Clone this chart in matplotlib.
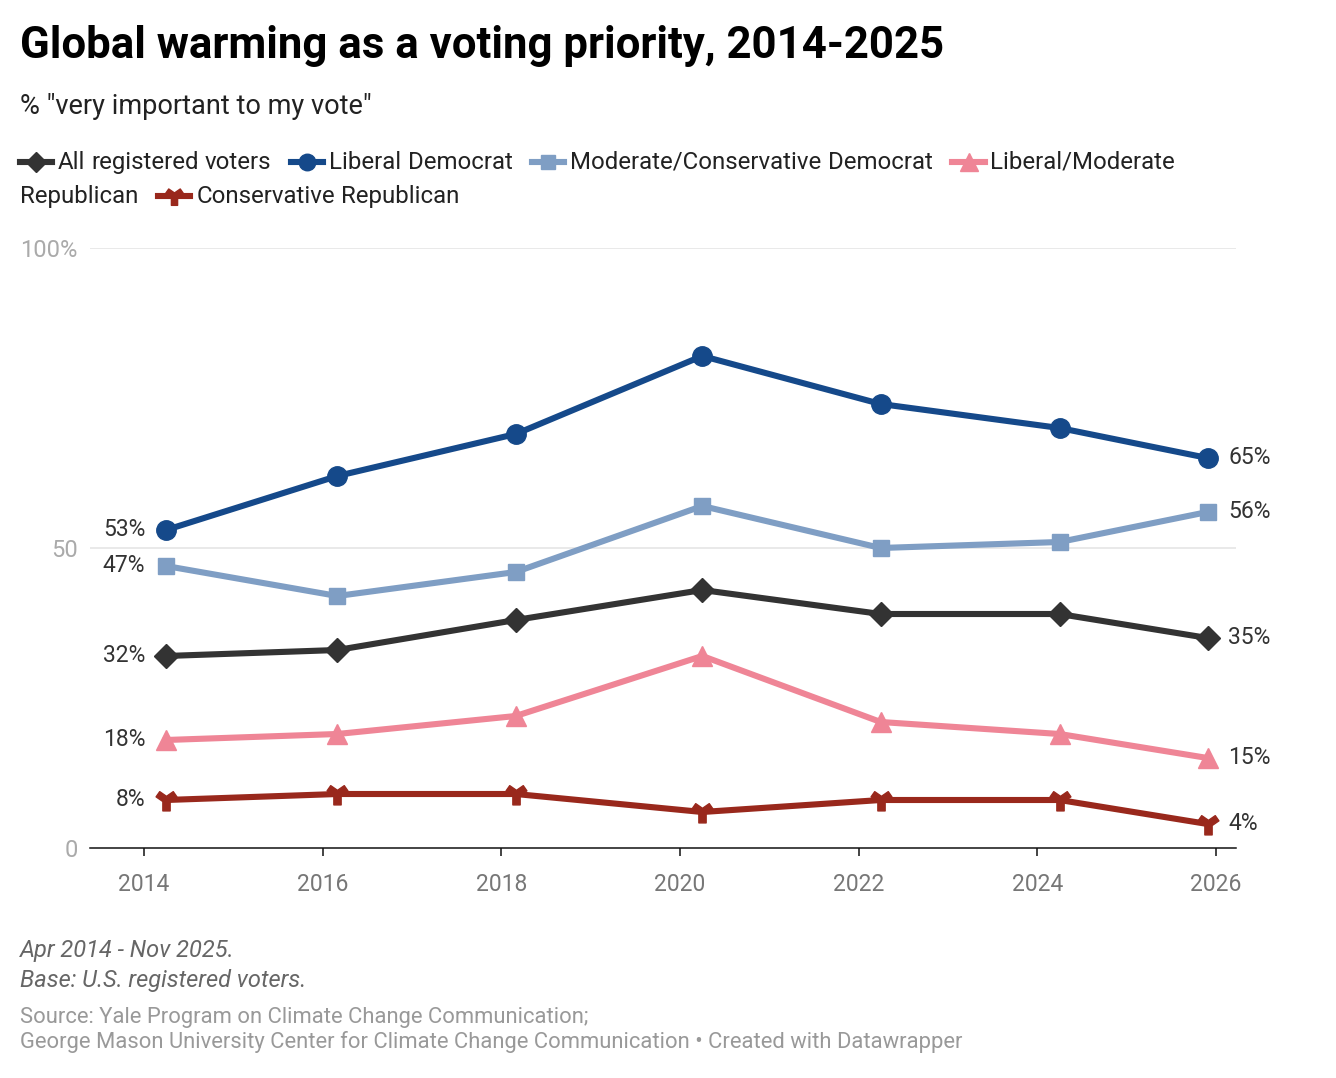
import numpy as np
import pandas as pd
import matplotlib
matplotlib.use("Agg")
import matplotlib.pyplot as plt
from matplotlib.path import Path
from matplotlib.lines import Line2D

plt.rcParams['font.family'] = ['Roboto', 'DejaVu Sans']

# DATA
dates = ['2014-04-01', '2016-03-01', '2018-03-01', '2020-04-01', '2022-04-01', '2024-04-01', '2025-11-28']
all_voters = [32, 33, 38, 43, 39, 39, 35]
liberal_dem = [53, 62, 69, 82, 74, 70, 65]
modcons_dem = [47, 42, 46, 57, 50, 51, 56]
libmod_rep = [18, 19, 22, 32, 21, 19, 15]
cons_rep = [8, 9, 9, 6, 8, 8, 4]
series_names = ['All registered voters', 'Liberal Democrat', 'Moderate/Conservative Democrat',
                'Liberal/Moderate Republican', 'Conservative Republican']
year_ticks = [2014, 2016, 2018, 2020, 2022, 2024, 2026]
y_ticks = [0, 50, 100]
y_tick_labels = ['0', '50', '100%']

# decimal years
d = pd.to_datetime(dates)
x = np.array(d.year + (d.dayofyear - 1) / 365.25)

# custom "Y" shaped marker for conservative republicans
y_marker = Path([(-0.35, -1), (0.35, -1), (0.35, -0.1), (1, 0.35), (0.65, 0.85),
                 (0, 0.4), (-0.65, 0.85), (-1, 0.35), (-0.35, -0.1), (-0.35, -1)],
                closed=True)

styles = [
    dict(color='#333333', marker='D', ms=12),
    dict(color='#15498a', marker='o', ms=14),
    dict(color='#7f9ec4', marker='s', ms=12),
    dict(color='#ef8596', marker='^', ms=15),
    dict(color='#99281c', marker=y_marker, ms=15),
]
values = [all_voters, liberal_dem, modcons_dem, libmod_rep, cons_rep]

W, H = 1336, 1078
fig = plt.figure(figsize=(W / 100, H / 100), dpi=100)
ax = fig.add_axes([90 / W, 1 - 848 / H, 1146 / W, 600 / H])

# gridlines
for gy in [50, 100]:
    ax.axhline(gy, color='#e3e3e3', lw=1.1, zorder=0)

for name, vals, st in zip(series_names, values, styles):
    ax.plot(x, vals, color=st['color'], lw=4.4, marker=st['marker'], ms=st['ms'],
            mfc=st['color'], mec=st['color'], solid_joinstyle='round', zorder=3)
    ax.annotate(f"{vals[0]}%", (x[0], vals[0]), xytext=(-15, 0), textcoords='offset points',
                ha='right', va='center', fontsize=16.5, color='#333333')
    ax.annotate(f"{vals[-1]}%", (x[-1], vals[-1]), xytext=(15, 0), textcoords='offset points',
                ha='left', va='center', fontsize=16.5, color='#333333')

ax.set_xlim(2014 - 54 / 89.33, 2026 + 20 / 89.33)
ax.set_ylim(0, 100)
ax.set_xticks(year_ticks)
ax.set_xticklabels([str(t) for t in year_ticks])
ax.set_yticks(y_ticks)
ax.set_yticklabels(y_tick_labels)
for s in ['top', 'right', 'left']:
    ax.spines[s].set_visible(False)
ax.spines['bottom'].set_color('#111111')
ax.spines['bottom'].set_linewidth(1.1)
ax.tick_params(axis='x', length=6, width=1.1, color='#111111', labelsize=16.5,
               labelcolor='#777777', pad=12)
ax.tick_params(axis='y', length=0, labelsize=17, labelcolor='#aaaaaa', pad=9)
ax.set_facecolor('none')

# TITLE
fig.text(20 / W, 1 - 46 / H, 'Global warming as a voting priority, 2014-2025',
         fontsize=31.5, fontweight='bold', color='#000000', va='center', ha='left')
fig.text(20 / W, 1 - 107 / H, '% "very important to my vote"',
         fontsize=19.5, color='#222222', va='center', ha='left')

# LEGEND (manual, wraps like the original)
fig.canvas.draw()
renderer = fig.canvas.get_renderer()
leg_fs = 17.3
row_y = [162, 196]
cur_x, row = 20, 0
right_limit = 1236
sym_w, sym_gap, item_gap = 32, 6, 20


def text_width(s):
    t = fig.text(0, 0, s, fontsize=leg_fs)
    w = t.get_window_extent(renderer).width
    t.remove()
    return w


space_w = text_width('a b') - text_width('ab')
for name, st in zip(series_names, styles):
    if cur_x + sym_w + sym_gap + text_width(name.split()[0]) > right_limit:
        row += 1
        cur_x = 20
    yy = 1 - row_y[row] / H
    fig.add_artist(Line2D([cur_x / W, (cur_x + sym_w) / W], [yy, yy], transform=fig.transFigure,
                          color=st['color'], lw=4.4))
    fig.add_artist(Line2D([(cur_x + sym_w / 2) / W], [yy], transform=fig.transFigure,
                          color=st['color'], marker=st['marker'], ms=st['ms'] * 0.85, lw=0))
    cur_x += sym_w + sym_gap
    words = name.split(' ')
    for i, wd in enumerate(words):
        ww = text_width(wd)
        if cur_x + ww > right_limit:
            row += 1
            cur_x = 20
            yy = 1 - row_y[row] / H
        fig.text(cur_x / W, yy, wd, fontsize=leg_fs, color='#222222', va='center', ha='left')
        cur_x += ww + (space_w if i < len(words) - 1 else 0)
    cur_x += item_gap

# FOOTER
fig.text(20 / W, 1 - 951 / H, 'Apr 2014 - Nov 2025.', fontsize=17, style='italic',
         color='#666666', va='center')
fig.text(20 / W, 1 - 980 / H, 'Base: U.S. registered voters.', fontsize=17, style='italic',
         color='#666666', va='center')
fig.text(20 / W, 1 - 1017 / H, 'Source: Yale Program on Climate Change Communication;',
         fontsize=15.8, color='#999999', va='center')
fig.text(20 / W, 1 - 1042 / H,
         'George Mason University Center for Climate Change Communication \u2022 Created with Datawrapper',
         fontsize=15.8, color='#999999', va='center')

fig.savefig('out.png', dpi=100, facecolor='white')
